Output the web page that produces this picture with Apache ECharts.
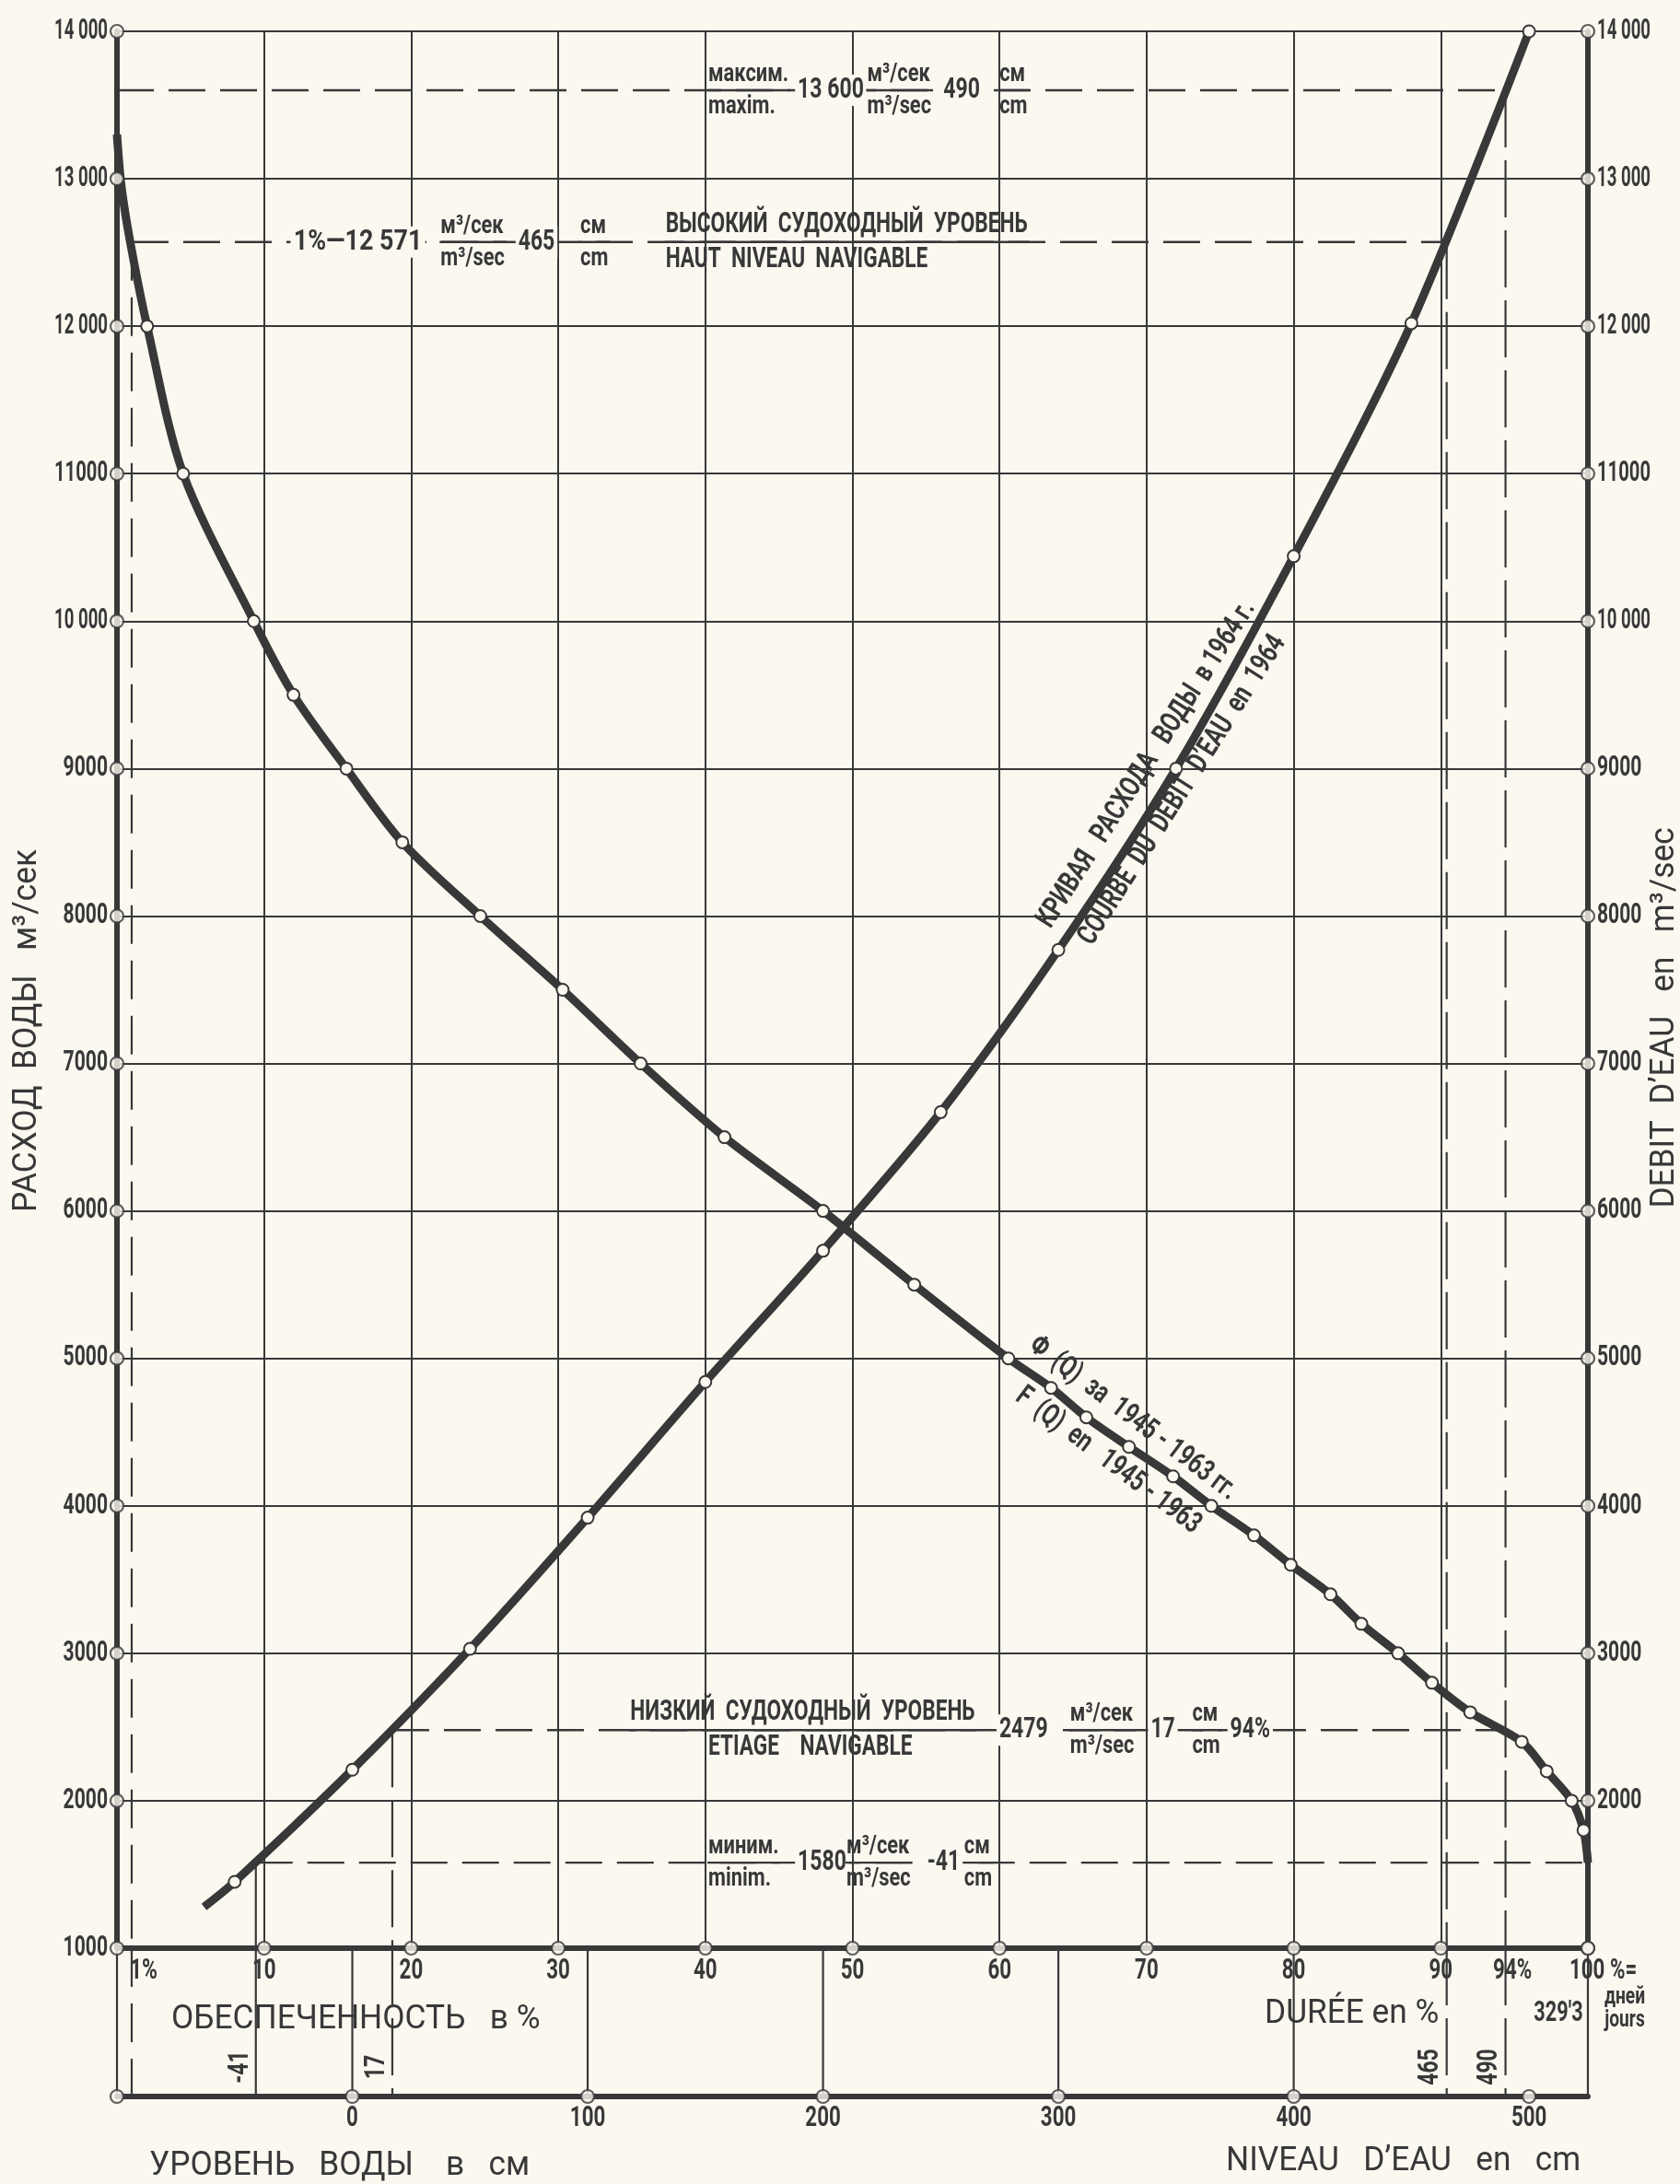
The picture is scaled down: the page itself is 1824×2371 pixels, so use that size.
<!DOCTYPE html>
<html>
<head>
<meta charset="utf-8">
<script src="https://cdn.jsdelivr.net/npm/echarts@6/dist/echarts.min.js"></script>
<style>
html,body{margin:0;padding:0;background:#fbf8f0;}
#c{width:1824px;height:2371px;}
</style>
</head>
<body>
<div id="c"></div>
<script>
// ---------------- DATA ----------------
const pctMin = 0, pctMax = 100;
const flowMin = 1000, flowMax = 14000;
const levelMin = -100, levelMax = 525;

const flowTicks = [1000,2000,3000,4000,5000,6000,7000,8000,9000,10000,11000,12000,13000,14000];
const flowTickLabels = ['1000','2000','3000','4000','5000','6000','7000','8000','9000','10 000','11000','12 000','13 000','14 000'];
const pctTicks = [10,20,30,40,50,60,70,80,90,100];
const pctTickLabels = ['10','20','30','40','50','60','70','80','90','100 %='];
const levelTicks = [0,100,200,300,400,500];
const levelTickLabels = ['0','100','200','300','400','500'];

// Duration curve  Φ(Q) 1945–1963 : % of time vs discharge
const durationPct = [0, 0.3, 0.9, 2.05, 4.5, 9.3, 12.0, 15.6, 19.4, 24.7, 30.3, 35.6, 41.3, 48.0, 54.2, 60.6, 63.5, 65.9, 68.8, 71.8, 74.4, 77.3, 79.8, 82.5, 84.6, 87.1, 89.4, 92.0, 95.5, 97.2, 98.9, 99.7, 100];
const durationQ   = [13300, 12950, 12571, 12000, 11000, 10000, 9500, 9000, 8500, 8000, 7500, 7000, 6500, 6000, 5500, 5000, 4800, 4600, 4400, 4200, 4000, 3800, 3600, 3400, 3200, 3000, 2800, 2600, 2400, 2200, 2000, 1800, 1580];
const durationMarked = [0,0,0,1,1,1,1,1,1,1,1,1,1,1,1,1,1,1,1,1,1,1,1,1,1,1,1,1,1,1,1,1,0];

// Rating curve 1964 : water level (cm) vs discharge
const ratingH = [-63, -50, 0, 50, 100, 150, 200, 250, 300, 350, 400, 450, 500];
const ratingQ = [1280, 1450, 2210, 3030, 3920, 4840, 5730, 6670, 7770, 9000, 10440, 12020, 14000];
const ratingMarked = [0,1,1,1,1,1,1,1,1,1,1,1,1];

// Characteristic levels: maximum, high navigable (1%), low navigable (94%), minimum
const levelQ   = [13600, 12571, 2479, 1580];
const levelH   = [490, 465, 17, -41];
const levelPct = [null, 1, 94, 100];

// ---------------- STYLE ----------------
const INK = '#383838';
const PAPER = '#fbf8f0';
const FN = 'Roboto,"Liberation Sans","DejaVu Sans",sans-serif';

function pctToLevel(p){ return levelMin + (levelMax - levelMin) * p / (pctMax - pctMin); }

const chart = echarts.init(document.getElementById('c'));

function seg(xi, yi, pts, ls){
  return {type:'line', xAxisIndex:xi, yAxisIndex:yi, data:pts, symbol:'none', silent:true,
          animation:false, clip:false, lineStyle:ls, z:2};
}
const SOLID = {color:INK, width:2.2, type:'solid'};
const DASHH = {color:INK, width:2.4, type:[40,16]};
const DASHV = {color:INK, width:2.2, type:[62,14]};
const DASH1 = {color:INK, width:2.2, type:[42,18]};

const series = [];
series.push(seg(1,0,[[levelMin, levelQ[0]],[levelH[0], levelQ[0]]], DASHH));
series.push(seg(1,0,[[pctToLevel(levelPct[1]), levelQ[1]],[levelH[1], levelQ[1]]], DASHH));
series.push(seg(1,0,[[levelH[2], levelQ[2]],[pctToLevel(levelPct[2]), levelQ[2]]], DASHH));
series.push(seg(1,0,[[levelH[3], levelQ[3]],[pctToLevel(levelPct[3]), levelQ[3]]], DASHH));
series.push(seg(1,0,[[pctToLevel(levelPct[1]), levelQ[1]],[pctToLevel(levelPct[1]), flowMin]], DASH1));
series.push(seg(1,0,[[levelH[1], levelQ[1]],[levelH[1], flowMin]], DASHV));
series.push(seg(1,0,[[levelH[0], levelQ[0]],[levelH[0], flowMin]], DASHV));
series.push(seg(1,0,[[levelH[2], levelQ[2]],[levelH[2], flowMin]], DASHV));
series.push(seg(1,0,[[levelH[3], levelQ[3]],[levelH[3], flowMin]], SOLID));
[levelMin, levelH[3], ...levelTicks.slice(0,5), levelMax].forEach(h=>{
  series.push(seg(2,2,[[h,1],[h,0]], SOLID));
});
series.push(seg(2,2,[[pctToLevel(levelPct[1]),1],[pctToLevel(levelPct[1]),0]], DASH1));
[levelH[2], levelH[1], levelH[0]].forEach(h=>series.push(seg(2,2,[[h,1],[h,0]], DASHV)));

series.push({
  type:'line', name:'Φ(Q) 1945-1963', xAxisIndex:0, yAxisIndex:0, smooth:0.3,
  data: durationPct.map((p,i)=>({value:[p, durationQ[i]], symbol: durationMarked[i] ? 'circle' : 'none'})),
  symbolSize:13, lineStyle:{color:INK, width:9}, itemStyle:{color:PAPER, borderColor:INK, borderWidth:2},
  z:5, animation:false, silent:true
});
series.push({
  type:'line', name:'Rating 1964', xAxisIndex:1, yAxisIndex:0, smooth:0.3,
  data: ratingH.map((h,i)=>({value:[h, ratingQ[i]], symbol: ratingMarked[i] ? 'circle' : 'none'})),
  symbolSize:13, lineStyle:{color:INK, width:9}, itemStyle:{color:PAPER, borderColor:INK, borderWidth:2},
  z:5, animation:false, silent:true
});

const tickStyle = {color:PAPER, borderColor:INK, borderWidth:2.2};
function ticks(xi, yi, pts){
  return {type:'scatter', xAxisIndex:xi, yAxisIndex:yi, data:pts, symbolSize:14, itemStyle:tickStyle,
          z:10, clip:false, silent:true, animation:false};
}
series.push(ticks(0,0, flowTicks.map(q=>[pctMin,q])));
series.push(ticks(0,0, flowTicks.map(q=>[pctMax,q])));
series.push(ticks(0,0, pctTicks.map(p=>[p,flowMin])));
series.push(ticks(2,2, [levelMin, ...levelTicks].map(h=>[h,0])));

const AX = {color:INK, width:6};
const option = {
  backgroundColor: PAPER,
  animation:false,
  grid:[
    {left:127, top:34, width:1597, height:2081},
    {left:127, top:2115, width:1597, height:161}
  ],
  xAxis:[
    {gridIndex:0, type:'value', min:pctMin, max:pctMax, interval:10, position:'bottom',
     axisLine:{show:true, onZero:false, lineStyle:AX}, axisTick:{show:false}, axisLabel:{show:false},
     splitLine:{show:true, lineStyle:{color:INK, width:2}}},
    {gridIndex:0, type:'value', min:levelMin, max:levelMax, show:false},
    {gridIndex:1, type:'value', min:levelMin, max:levelMax, interval:100, position:'bottom',
     axisLine:{show:true, onZero:false, lineStyle:AX}, axisTick:{show:false}, axisLabel:{show:false},
     splitLine:{show:false}},
    {gridIndex:1, type:'value', min:pctMin, max:pctMax, show:false}
  ],
  yAxis:[
    {gridIndex:0, type:'value', min:flowMin, max:flowMax, interval:1000, position:'left',
     axisLine:{show:true, onZero:false, lineStyle:AX}, axisTick:{show:false}, axisLabel:{show:false},
     splitLine:{show:true, lineStyle:{color:INK, width:2}}},
    {gridIndex:0, type:'value', min:flowMin, max:flowMax, interval:1000, position:'right',
     axisLine:{show:true, onZero:false, lineStyle:AX}, axisTick:{show:false}, axisLabel:{show:false},
     splitLine:{show:false}},
    {gridIndex:1, type:'value', min:0, max:1, show:false}
  ],
  series
};
chart.setOption(option);

// ---------------- TEXT ----------------
const mctx = document.createElement('canvas').getContext('2d');
function rawW(t, size, weight){ mctx.font = (weight||'bold')+' '+size+'px '+FN; return mctx.measureText(t).width; }
function P(p, q){ return chart.convertToPixel({xAxisIndex:0, yAxisIndex:0}, [p, q]); }
function PL(h){ return chart.convertToPixel({xAxisIndex:2, yAxisIndex:2}, [h, 0]); }

const G = [];
function txt(x, y, t, o){
  o = o || {};
  let s = o.sx || 0.74;
  const size = o.size || 30, weight = o.weight || 'bold';
  if (o.fit) s = Math.min(s, o.fit / rawW(t, size, weight));
  G.push({type:'text', x, y, rotation:o.rot||0, scaleX:s, z:100, silent:true,
    style:{text:t, fill:INK, fontSize:size, fontFamily:FN, fontWeight:weight,
           align:o.align||'left', verticalAlign:o.va||'middle',
           backgroundColor:o.bg, padding:o.bg?[1,4,1,4]:0}});
  return rawW(t, size, weight) * s;
}
function line(x1,y1,x2,y2,w){
  G.push({type:'line', z:100, silent:true, shape:{x1,y1,x2,y2}, style:{stroke:INK, lineWidth:w||2.4}});
}
function frac(p, q, top, bottom, pB, size, sx){
  size = size || 28; sx = sx || 0.78;
  const [x, y] = P(p, q);
  const xb = pB !== undefined ? P(pB, q)[0] : x;
  const wT = txt(x, y-3, top, {size, sx, va:'bottom'});
  const wB = txt(xb, y+4, bottom, {size, sx, va:'top'});
  line(x-1, y, Math.max(x+wT, xb+wB)+2, y, 2.4);
}
function num(p, q, t, sx){
  const [x, y] = P(p, q);
  txt(x, y, t, {size:32, sx:sx||0.72, bg:PAPER});
}

// tick labels
const TK = 31;
flowTicks.forEach((q,i)=>{
  const [xl, y] = P(pctMin, q);
  txt(xl - 10, y, flowTickLabels[i], {size:TK, sx:0.68, fit:58, align:'right'});
  if (q !== flowMin) txt(P(pctMax, q)[0] + 10, y, flowTickLabels[i], {size:TK, sx:0.68, fit:58, align:'left'});
});
pctTicks.forEach((p,i)=>{
  const [x, y] = P(p, flowMin);
  if (p === pctMax) txt(x - 20, y + 10, pctTickLabels[i], {size:TK, sx:0.72, align:'left', va:'top'});
  else txt(x, y + 10, pctTickLabels[i], {size:TK, sx:0.72, align:'center', va:'top'});
});
levelTicks.forEach((h,i)=>{
  const [x, y] = PL(h);
  txt(x, y + 9, levelTickLabels[i], {size:TK, sx:0.72, align:'center', va:'top'});
});

// maximum
frac(40.2, levelQ[0], 'максим.', 'maxim.');
num(46.1, levelQ[0], '13 600');
frac(51.0, levelQ[0], 'м³/сек', 'm³/sec');
num(56.0, levelQ[0], String(levelH[0]));
frac(60.0, levelQ[0], 'см', 'cm');
// high navigable level
num(11.8, levelQ[1], '1%—12 571', 0.84);
frac(22.0, levelQ[1], 'м³/сек', 'm³/sec');
num(27.1, levelQ[1], String(levelH[1]));
frac(31.5, levelQ[1], 'см', 'cm');
frac(37.3, levelQ[1], 'ВЫСОКИЙ  СУДОХОДНЫЙ  УРОВЕНЬ', 'HAUT  NIVEAU  NAVIGABLE', undefined, 31, 0.73);
// low navigable level
frac(34.9, levelQ[2], 'НИЗКИЙ  СУДОХОДНЫЙ  УРОВЕНЬ', 'ETIAGE    NAVIGABLE', 40.2, 31, 0.73);
num(59.8, levelQ[2], String(levelQ[2]));
frac(64.8, levelQ[2], 'м³/сек', 'm³/sec');
num(70.1, levelQ[2], String(levelH[2]));
frac(73.1, levelQ[2], 'см', 'cm');
num(75.5, levelQ[2], levelPct[2]+'%');
// minimum
frac(40.2, levelQ[3], 'миним.', 'minim.');
num(46.1, levelQ[3], String(levelQ[3]));
frac(49.6, levelQ[3], 'м³/сек', 'm³/sec');
num(54.9, levelQ[3], String(levelH[3]));
frac(57.6, levelQ[3], 'см', 'cm');

// extra texts near the percent axis
(function(){
  const y = P(0, flowMin)[1] + 10;
  txt(P(levelPct[1], flowMin)[0] + 13, y, '1%', {size:TK, sx:0.74, align:'center', va:'top'});
  txt(P(levelPct[2], flowMin)[0] + 14, y, levelPct[2]+'%', {size:TK, sx:0.72, align:'center', va:'top'});
  const xr = P(pctMax, flowMin)[0];
  txt(xr - 32, y + 46, "329'3", {size:TK, sx:0.7, align:'center', va:'top'});
  txt(xr + 40, y + 30, 'дней', {size:26, sx:0.74, align:'center', va:'top'});
  txt(xr + 40, y + 55, 'jours', {size:26, sx:0.74, align:'center', va:'top'});
})();
// rotated level values
[levelH[3], levelH[2], levelH[1], levelH[0]].forEach(h=>{
  const [x, y] = PL(h);
  txt(x - 17, y - 32, String(h), {size:TK, sx:0.74, align:'center', rot:Math.PI/2});
});

// axis titles
const TS = {size:36, weight:'normal', sx:0.98};
txt(30, 1119, 'РАСХОД  ВОДЫ   м³/сек', Object.assign({align:'center', rot:Math.PI/2}, TS));
txt(1808, 1105, 'DEBIT  D’EAU   en   m³/sec', Object.assign({align:'center', rot:Math.PI/2}, TS));
txt(186, 2193, 'ОБЕСПЕЧЕННОСТЬ   в %', TS);
txt(1373, 2187, 'DURÉE en %', TS);
txt(162, 2352, 'УРОВЕНЬ   ВОДЫ    в   см', TS);
txt(1331, 2347, 'NIVEAU   D’EAU   en   cm', TS);

// curve labels
const a1 = 57.5*Math.PI/180, a2 = -37*Math.PI/180;
txt(1245, 830, 'КРИВАЯ   РАСХОДА   ВОДЫ  в 1964 г.', {size:32, sx:0.74, align:'center', rot:a1});
txt(1284, 858, 'COURBE  DU  DEBIT  D’EAU  en  1964', {size:32, sx:0.74, align:'center', rot:a1});
txt(1230, 1540, 'Φ  (Q)  за  1945 - 1963 гг.', {size:32, sx:0.74, align:'center', rot:a2});
txt(1203, 1586, 'F  (Q)  en   1945 - 1963', {size:32, sx:0.74, align:'center', rot:a2});

chart.setOption({graphic:{elements:G}});
</script>
</body>
</html>
